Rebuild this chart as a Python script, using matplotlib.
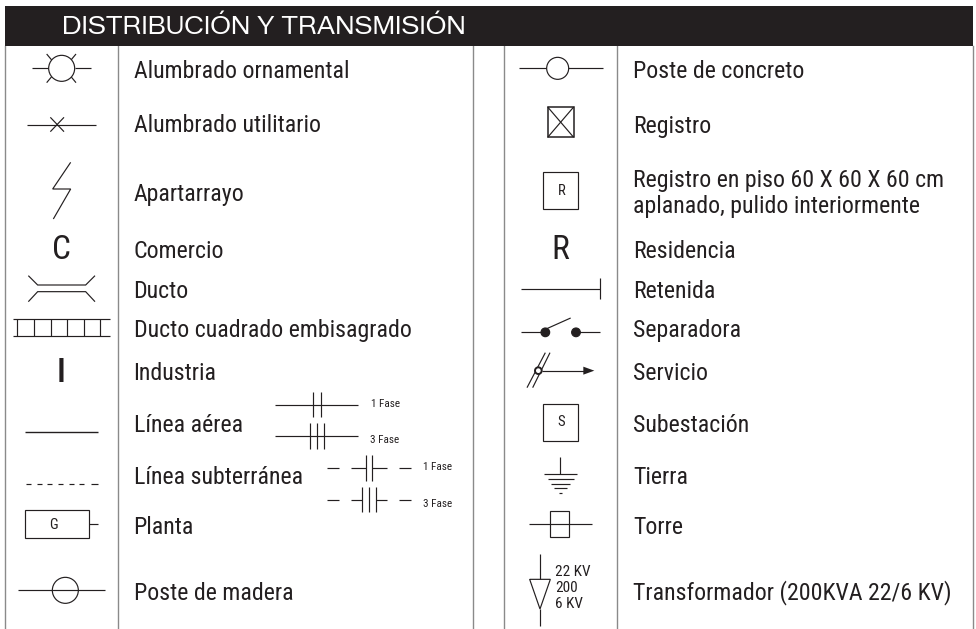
import matplotlib
matplotlib.use("Agg")
import matplotlib.pyplot as plt
from matplotlib.patches import Rectangle, Circle, Polygon

title = "DISTRIBUCIÓN Y TRANSMISIÓN"
left_labels = ["Alumbrado ornamental", "Alumbrado utilitario", "Apartarrayo", "Comercio", "Ducto",
               "Ducto cuadrado embisagrado", "Industria", "Línea aérea", "Línea subterránea",
               "Planta", "Poste de madera"]
right_labels = ["Poste de concreto", "Registro", None, "Residencia", "Retenida", "Separadora",
                "Servicio", "Subestación", "Tierra", "Torre", "Transformador (200KVA 22/6 KV)"]
registro_lines = ["Registro en piso 60 X 60 X 60 cm", "aplanado, pulido interiormente"]
row_baselines = [77.5, 132.5, 200.5, 257.5, 297.5, 337.5, 379.5, 432.5, 484.5, 533.5, 599.5]
grid_x = [5, 118.3, 473.3, 503.7, 617.3, 973]

NARROW = ["Roboto Condensed", "Archivo Narrow", "Liberation Sans", "DejaVu Sans"]
WIDE = ["Zalando Sans SemiExpanded", "Encode Sans Expanded", "Liberation Sans", "DejaVu Sans"]
INK = "#231f20"
LW = 0.85

fig = plt.figure(figsize=(9.76, 6.29), dpi=100)
ax = fig.add_axes([0, 0, 1, 1])
ax.set_xlim(0, 976)
ax.set_ylim(629, 0)
ax.axis("off")


def seg(origin, pts, lw=LW, z=3):
    ox, oy = origin
    ax.plot([ox + p[0] / 3 for p in pts], [oy + p[1] / 3 for p in pts], color=INK, lw=lw,
            solid_capstyle="butt", solid_joinstyle="miter", zorder=z)


def box(origin, x0, x1, y0, y1, lw=LW):
    ox, oy = origin
    ax.add_patch(Rectangle((ox + x0 / 3, oy + y0 / 3), (x1 - x0) / 3, (y1 - y0) / 3, fc="white",
                           ec=INK, lw=lw, zorder=4))


def circ(origin, x, y, r, fc="white", lw=LW):
    ox, oy = origin
    ax.add_patch(Circle((ox + x / 3, oy + y / 3), r / 3, fc=fc, ec=INK, lw=lw, zorder=4))


def txt(origin, x, y, s, size, ha="left", va="baseline", family=NARROW, weight="normal"):
    ox, oy = origin
    ax.text(ox + x / 3, oy + y / 3, s, fontsize=size, ha=ha, va=va, color=INK, family=family,
            fontweight=weight, zorder=5)


# header and grid
ax.add_patch(Rectangle((5, 6), 968, 40, fc=INK, ec="none", zorder=2))
ax.text(62, 34.5, title, color="white", fontsize=17.6, ha="left", va="baseline", family=WIDE, zorder=3)
for gx in grid_x:
    ax.plot([gx, gx], [46, 629], color="#8a8a8a", lw=1.0, zorder=1)

# row labels
LABEL = 17.2
for s, b in zip(left_labels, row_baselines):
    ax.text(133.5, b, s, fontsize=LABEL, color=INK, family=NARROW, va="baseline")
for s, b in zip(right_labels, row_baselines):
    if s:
        ax.text(633, b, s, fontsize=LABEL, color=INK, family=NARROW, va="baseline")
ax.text(633, 187, registro_lines[0], fontsize=LABEL, color=INK, family=NARROW, va="baseline")
ax.text(633, 213.5, registro_lines[1], fontsize=LABEL, color=INK, family=NARROW, va="baseline")

A = (0, 0)
B = (0, 310)
C = (486, 0)
D = (486, 310)

# left column symbols
circ(A, 185, 205, 39)
seg(A, [(97, 205), (146, 205)])
seg(A, [(224, 205), (273, 205)])
seg(A, [(140, 162), (155, 180)])
seg(A, [(228, 162), (213, 180)])
seg(A, [(140, 248), (155, 230)])
seg(A, [(228, 248), (213, 230)])

seg(A, [(81, 374), (288, 374)])
seg(A, [(151, 352), (192, 395)])
seg(A, [(192, 352), (151, 395)])

seg(A, [(212, 487), (158, 567), (212, 567), (160, 657)])

txt(A, 185, 777, "C", 24, ha="center")

seg(A, [(85, 827), (113, 855), (257, 855), (285, 827)])
seg(A, [(85, 905), (113, 875), (257, 875), (285, 905)])

seg(B, [(40, 27), (330, 27)])
seg(B, [(40, 78), (330, 78)])
for vx in [52, 102, 152, 201, 251, 301]:
    seg(B, [(vx, 27), (vx, 78)])

txt(B, 184, 215, "I", 24, ha="center", weight="medium")

seg(B, [(75, 365), (295, 365)], lw=1.0)
seg(B, [(826, 284), (1074, 284)])
for vx in [940, 962]:
    seg(B, [(vx, 247), (vx, 322)])
seg(B, [(826, 378), (1074, 378)])
for vx in [931, 951, 971]:
    seg(B, [(vx, 340), (vx, 416)])
txt(B, 1112, 290, "1 Fase", 8)
txt(B, 1110, 398, "3 Fase", 8)

for x0, x1 in [(78, 93), (110, 125), (142, 157), (174, 189), (206, 221), (238, 253), (272, 293)]:
    seg(B, [(x0, 521), (x1, 521)])
seg(B, [(982, 473), (1017, 473)])
seg(B, [(1053, 473), (1097, 473)])
seg(B, [(1117, 473), (1160, 473)])
seg(B, [(1197, 473), (1232, 473)])
for vx in [1097, 1117]:
    seg(B, [(vx, 436), (vx, 512)])
seg(B, [(982, 569), (1017, 569)])
seg(B, [(1053, 569), (1087, 569)])
seg(B, [(1127, 569), (1160, 569)])
seg(B, [(1197, 569), (1232, 569)])
for vx in [1087, 1107, 1127]:
    seg(B, [(vx, 530), (vx, 607)])
txt(B, 1268, 480, "1 Fase", 8)
txt(B, 1268, 590, "3 Fase", 8)

box(B, 76, 268, 599, 685)
seg(B, [(268, 642), (295, 642)])
txt(B, 160, 657, "G", 10.5, ha="center")

seg(B, [(55, 841), (315, 841)])
ox, oy = B
ax.add_patch(Circle((ox + 196 / 3, oy + 841 / 3), 39 / 3, fc="none", ec=INK, lw=LW, zorder=4))

# right column symbols
seg(C, [(100, 205), (350, 205)])
circ(C, 215, 205, 33)

box(C, 185, 263, 321, 412, lw=1.1)
seg(C, [(185, 321), (263, 412)], z=5)
seg(C, [(263, 321), (185, 412)], z=5)

box(C, 172, 277, 515, 628)
txt(C, 227, 584, "R", 10.5, ha="center")

txt(C, 222, 777, "R", 24, ha="center")

seg(C, [(105, 866), (341, 866)])
seg(C, [(341, 833), (341, 898)])

seg(D, [(105, 67), (178, 67)])
seg(D, [(178, 58), (254, 24)])
seg(D, [(270, 67), (342, 67)])
circ(D, 178, 67, 13, fc=INK)
circ(D, 270, 67, 13, fc=INK)

seg(D, [(178, 128), (123, 233)])
seg(D, [(192, 128), (140, 233)])
seg(D, [(167, 182), (300, 182)])
ox, oy = D
ax.add_patch(Polygon([(ox + 292 / 3, oy + 170 / 3), (ox + 325 / 3, oy + 182 / 3), (ox + 292 / 3, oy + 194 / 3)],
                     fc=INK, ec="none", zorder=4))
circ(D, 157, 182, 10, lw=1.4)

box(D, 172, 277, 282, 394)
txt(D, 225, 349, "S", 10.5, ha="center")

seg(D, [(223, 442), (223, 492)])
for yb, x0, x1 in [(492, 174, 274), (507, 185, 263), (521, 195, 252), (535, 205, 242), (549, 218, 228)]:
    seg(D, [(x0, yb), (x1, yb)])

seg(D, [(130, 641), (318, 641)])
ax.add_patch(Rectangle((ox + 191 / 3, oy + 604 / 3), 59 / 3, 76 / 3, fc="none", ec=INK, lw=LW, zorder=4))

seg(D, [(162, 733), (162, 806)])
seg(D, [(131, 808), (193, 808), (162, 897), (131, 808)])
seg(D, [(162, 897), (162, 948)])
txt(D, 207, 797, "22 KV", 11)
txt(D, 207, 846, "200", 11)
txt(D, 207, 893, "6 KV", 11)

fig.savefig("out.png", dpi=100, facecolor="white")
